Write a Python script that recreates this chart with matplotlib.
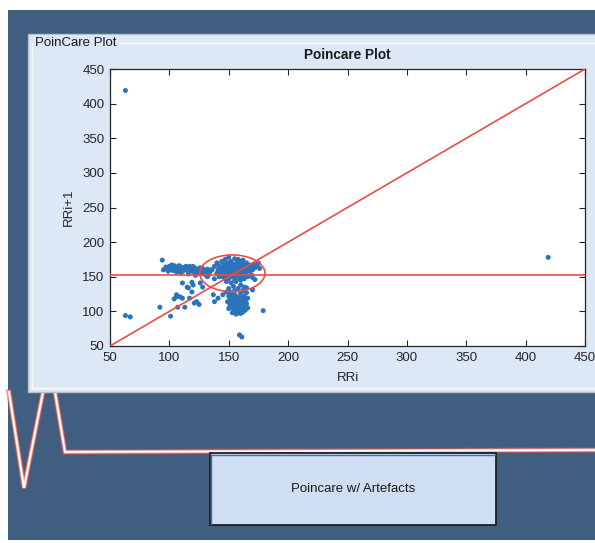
import matplotlib
matplotlib.use("Agg")
import matplotlib.pyplot as plt
from matplotlib.patches import Rectangle, Ellipse

plt.rcParams['font.family'] = ['Liberation Sans', 'DejaVu Sans']

# ---------------- data ----------------
band_pts = [(95,160),(97,164),(98,162),(100,165),(101,161),(102,163),(104,166),(105,160),
            (106,164),(107,162),(108,158),(109,165),(110,161),(111,163),(112,159),(113,164),
            (114,160),(115,162),(116,157),(117,165),(118,161),(119,159),(120,163),(121,156),
            (122,162),(123,158),(124,161),(125,155),(126,160),(127,157),(128,162),(129,154),
            (130,159),(131,156),(132,161),(133,153),(134,158),(135,160),(99,158),(103,159),
            (106,157),(110,156),(113,162),(116,154),(119,158),(122,152),(125,157),(128,155),
            (131,152),(134,157),(102,167),(108,166),(114,165),(120,165),(126,163),(132,150),
            (94,174)]

main_pts = [(138,165),(140,170),(141,160),(142,166),(143,157),(144,172),(145,163),(146,168),
            (146,155),(147,175),(147,160),(148,165),(148,150),(149,170),(149,158),(150,162),
            (150,147),(151,167),(151,155),(152,172),(152,160),(153,164),(153,152),(154,168),
            (154,157),(155,161),(155,145),(156,166),(156,153),(157,170),(157,158),(158,163),
            (158,149),(159,167),(159,155),(160,160),(160,172),(161,164),(161,152),(162,168),
            (162,157),(163,161),(163,147),(164,166),(164,155),(165,170),(165,160),(166,163),
            (167,158),(167,167),(168,162),(169,165),(170,160),(171,168),(172,163),(174,166),
            (176,162),(150,178),(155,176),(158,175),(162,174),(145,150),(148,143),(152,141),
            (156,143),(160,145),(166,150),(169,153),(153,156),(157,162),(151,158),(159,151),
            (155,149),(161,157),(163,153),(149,154),(147,147),(165,165),(144,160),(170,149),
            (172,146),(175,170),(154,162),(158,158),(152,150),(146,163),(136,160),(140,155),
            (142,150),(138,147)]

low_pts = [(148,128),(150,122),(151,117),(152,112),(152,125),(153,106),(153,119),(154,100),
           (154,114),(155,109),(155,124),(156,103),(156,118),(157,97),(157,112),(158,107),
           (158,121),(159,101),(159,115),(160,110),(160,126),(161,104),(161,119),(162,99),
           (162,113),(163,108),(163,122),(164,102),(164,116),(165,111),(166,105),(166,119),
           (150,104),(151,109),(149,114),(155,130),(158,133),(162,130),(165,127),(156,96),
           (160,97),(153,98),(157,104),(159,108),(154,121),(151,128),(163,135),(160,138),
           (154,136),(150,133)]

scatter_pts = [(63,419),(419,178),(63,94),(67,92),(161,63),(159,66),(179,101),(92,106),
               (101,93),(106,124),(107,106),(111,119),(113,106),(117,119),(123,114),(116,134),
               (119,128),(106,121),(111,141),(115,135),(119,142),(120,138),(109,121),(128,135),
               (126,141),(133,157),(137,124),(141,119),(138,114),(145,124),(170,131),(165,134),
               (104,118),(121,112),(125,110)]

all_pts = band_pts + main_pts + low_pts + scatter_pts
rri = [p[0] for p in all_pts]
rri1 = [p[1] for p in all_pts]

identity_line = [50, 450]
mean_rr = 153
ellipse_center = (153, 155)
ellipse_w, ellipse_h = 55, 53

xticks = [50, 100, 150, 200, 250, 300, 350, 400, 450]
yticks = [50, 100, 150, 200, 250, 300, 350, 400, 450]

# ---------------- figure ----------------
W, H = 595, 543
fig = plt.figure(figsize=(W/100, H/100), dpi=100, facecolor='white')

bg = fig.add_axes([0, 0, 1, 1], zorder=0)
bg.set_xlim(0, W)
bg.set_ylim(H, 0)
bg.axis('off')

blue = '#3F5E80'
panel = '#DDE8F6'
bg.add_patch(Rectangle((8, 10), 600, 530, facecolor=blue, edgecolor='none', zorder=0))

# ECG decoration
for seg in ([(9, 392), (24, 488), (43, 392)], [(55, 392), (65, 452), (600, 450)]):
    xs = [s[0] for s in seg]; ys = [s[1] for s in seg]
    bg.plot(xs, ys, color='#E0504A', lw=4.0, alpha=0.6, zorder=1, solid_joinstyle='miter')
    bg.plot(xs, ys, color='#F6B8B0', lw=2.4, alpha=0.9, zorder=1.05, solid_joinstyle='miter')
    bg.plot(xs, ys, color='#FFFFFF', lw=1.2, zorder=1.1, solid_joinstyle='miter')

# light panel
bg.add_patch(Rectangle((28, 34), 580, 358, facecolor=panel, edgecolor='#B8BEC6', lw=1.0, zorder=2))
bg.plot([32, 32, 600], [388, 43, 43], color='#F8FBFF', lw=1.0, zorder=2.1)
bg.plot([32, 600], [388, 388], color='#F8FBFF', lw=1.0, zorder=2.1)
bg.text(35, 43, 'PoinCare Plot', fontsize=9.5, color='#1a1a1a', va='center', ha='left',
        zorder=3, bbox=dict(facecolor=panel, edgecolor='none', pad=1.5))

# button
bg.add_patch(Rectangle((210, 453), 286, 72, facecolor='#CFDEF3', edgecolor='#1E1E1E', lw=1.3, zorder=2))
bg.plot([211, 495], [454.5, 454.5], color='#2F6FD6', lw=1.0, zorder=2.2)
bg.plot([211, 211], [454.5, 524], color='#2F6FD6', lw=1.0, zorder=2.2)
bg.text(353, 489, 'Poincare w/ Artefacts', fontsize=9.5, color='#1a1a1a', ha='center', va='center', zorder=3)

# plot axes
ax = fig.add_axes([110/W, 1 - 346/H, 475/W, 277/H], zorder=5)
ax.set_facecolor('white')
ax.scatter(rri, rri1, s=13, color='#2B74BA', edgecolors='none', zorder=3)
ax.plot(identity_line, identity_line, color='#EE4B45', lw=1.2, zorder=4)
ax.axhline(mean_rr, color='#EE4B45', lw=1.2, zorder=4)
ax.add_patch(Ellipse(ellipse_center, ellipse_w, ellipse_h, fill=False, edgecolor='#EE4B45', lw=1.2, zorder=4))

ax.set_xlim(50, 450)
ax.set_ylim(50, 450)
ax.set_xticks(xticks)
ax.set_yticks(yticks)
ax.tick_params(direction='in', length=4, width=0.8, top=True, right=True,
               labelsize=9.5, colors='#262626', pad=4)
for sp in ax.spines.values():
    sp.set_color('#262626')
    sp.set_linewidth(0.9)
ax.set_title('Poincare Plot', fontsize=9.8, fontweight='bold', color='#1a1a1a', pad=7)
ax.set_xlabel('RRi', fontsize=9.5, color='#262626', labelpad=6)
ax.set_ylabel('RRi+1', fontsize=9.5, color='#262626', labelpad=5)

fig.savefig('out.png', dpi=100, facecolor='white')
